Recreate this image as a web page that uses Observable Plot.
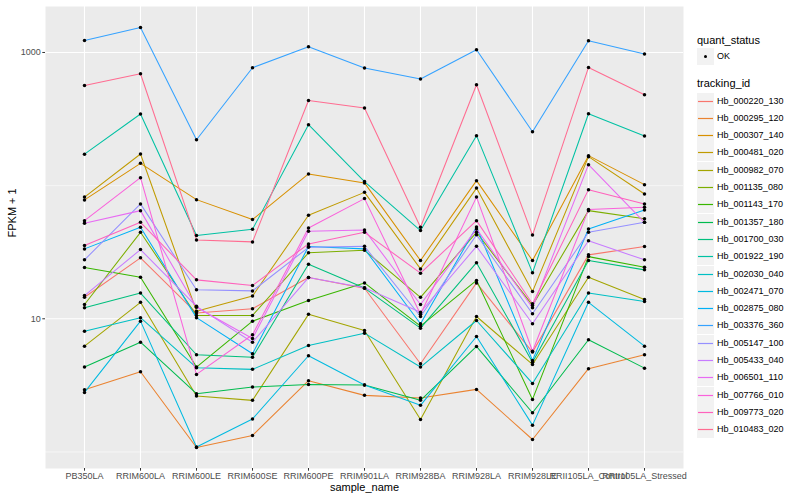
<!DOCTYPE html>
<html><head><meta charset="utf-8">
<script src="https://cdn.jsdelivr.net/npm/d3@7"></script>
<script src="https://cdn.jsdelivr.net/npm/@observablehq/plot@0.6"></script>
<style>
body{margin:0;background:#fff;font-family:"Liberation Sans",Arial,sans-serif;}
#wrap{position:relative;width:800px;height:500px;overflow:hidden;}
.lg{position:absolute;white-space:nowrap;line-height:1;}
.ttl{font-size:11px;color:#000;}
.txt{font-size:9px;color:#000;}
.key{position:absolute;width:17px;height:17px;background:#f2f2f2;}
.key svg{position:absolute;left:0;top:0;}
.key .dt{position:absolute;left:7px;top:7px;width:3.4px;height:3.4px;border-radius:50%;background:#000;}
</style></head>
<body><div id="wrap"></div>
<script>
const samples = ["PB350LA","RRIM600LA","RRIM600LE","RRIM600SE","RRIM600PE","RRIM901LA","RRIM928BA","RRIM928LA","RRIM928LE","RRII105LA_Control","RRII105LA_Stressed"];
const trackingIds = ["Hb_000220_130","Hb_000295_120","Hb_000307_140","Hb_000481_020","Hb_000982_070","Hb_001135_080","Hb_001143_170","Hb_001357_180","Hb_001700_030","Hb_001922_190","Hb_002030_040","Hb_002471_070","Hb_002875_080","Hb_003376_360","Hb_005147_100","Hb_005433_040","Hb_006501_110","Hb_007766_010","Hb_009773_020","Hb_010483_020"];
const colors = ["#F8766D","#EA8331","#D89000","#C09B00","#A3A500","#7CAE00","#39B600","#00BB4E","#00BF7D","#00C1A3","#00BFC4","#00BAE0","#00B0F6","#35A2FF","#9590FF","#C77CFF","#E76BF3","#FA62DB","#FF62BC","#FF6C91"];
const yTicks = [10, 1000];

// FPKM + 1 per tracking_id, in sample order
const Hb_000220_130 = [14.5, 28.7, 11.05, 11.9, 20.4, 16.96, 4.60, 18.6, 5.62, 30.2, 34.9];
const Hb_000295_120 = [2.93, 4.00, 1.08, 1.33, 3.43, 2.66, 2.54, 2.95, 1.24, 4.22, 5.37];
const Hb_000307_140 = [78.1, 147, 78.5, 55.6, 122.4, 104.8, 27.4, 109, 27.4, 168, 101.7];
const Hb_000481_020 = [82.0, 172.9, 11.4, 14.8, 59.9, 89.0, 23.7, 95.8, 16.0, 165, 86.6];
const Hb_000982_070 = [6.23, 13.3, 2.63, 2.44, 10.8, 8.17, 1.75, 10.4, 4.54, 20.5, 13.95];
const Hb_001135_080 = [12.8, 44.6, 10.6, 10.6, 31.3, 32.7, 14.5, 44.6, 12.6, 64.9, 56.3];
const Hb_001143_170 = [24.3, 20.5, 4.34, 9.6, 13.7, 18.6, 8.80, 19.4, 2.48, 29.3, 24.4];
const Hb_001357_180 = [4.34, 6.67, 2.74, 3.07, 3.21, 3.18, 2.44, 6.20, 1.97, 6.96, 4.26];
const Hb_001700_030 = [12.1, 15.6, 5.37, 5.15, 25.7, 17.0, 8.50, 26.4, 4.72, 27.4, 23.3];
const Hb_001922_190 = [172.3, 345, 42.2, 47.0, 286.9, 107.2, 46.0, 237.3, 22.2, 346.8, 236];
const Hb_002030_040 = [8.07, 10.2, 4.29, 4.17, 6.31, 7.80, 4.34, 9.71, 3.27, 15.6, 13.5];
const Hb_002471_070 = [2.80, 9.6, 1.09, 1.77, 5.28, 3.18, 2.24, 7.36, 1.59, 13.3, 6.23];
const Hb_002875_080 = [33.5, 48.7, 10.2, 5.46, 34.9, 33.5, 9.17, 48.9, 4.87, 47.3, 65.7];
const Hb_003376_360 = [1230, 1540, 221, 768, 1104, 765, 632, 1048, 254, 1224, 973];
const Hb_005147_100 = [27.7, 72.9, 16.5, 16.2, 34.4, 35.0, 10.4, 42.7, 10.9, 44.6, 53.0];
const Hb_005433_040 = [14.95, 33.1, 12.4, 6.67, 20.4, 17.1, 11.2, 35.0, 9.17, 38.5, 27.7];
const Hb_006501_110 = [52.1, 64.9, 12.2, 7.12, 45.4, 46.5, 12.8, 47.3, 12.1, 143.7, 53.0];
const Hb_007766_010 = [54.6, 114.8, 3.82, 7.59, 48.0, 79.9, 10.8, 82.0, 5.71, 66.1, 68.7];
const Hb_009773_020 = [35.5, 53.0, 19.6, 17.8, 36.5, 44.6, 22.0, 54.6, 12.96, 93.3, 72.9];
const Hb_010483_020 = [565, 692, 39.1, 37.8, 436, 383, 48.7, 572, 42.5, 772, 481];

const seriesValues = [Hb_000220_130,Hb_000295_120,Hb_000307_140,Hb_000481_020,Hb_000982_070,Hb_001135_080,Hb_001143_170,Hb_001357_180,Hb_001700_030,Hb_001922_190,Hb_002030_040,Hb_002471_070,Hb_002875_080,Hb_003376_360,Hb_005147_100,Hb_005433_040,Hb_006501_110,Hb_007766_010,Hb_009773_020,Hb_010483_020];

const data = trackingIds.flatMap((id, i) => samples.map((s, j) => ({id, sample: s, value: seriesValues[i][j], quant_status: "OK"})));

// ggplot-like expansion (5% in log space)
const lo = Math.log10(d3.min(data, d => d.value)), hi = Math.log10(d3.max(data, d => d.value));
const pad = (hi - lo) * 0.05;
const yDomain = [Math.pow(10, lo - pad), Math.pow(10, hi + pad)];

const chart = Plot.plot({
  width: 800, height: 500,
  marginLeft: 45, marginRight: 117, marginTop: 6, marginBottom: 32,
  style: {fontFamily: '"Liberation Sans", Arial, sans-serif', background: "#fff"},
  x: {type: "point", domain: samples, padding: 0.6, label: null},
  y: {type: "log", domain: yDomain, label: null},
  color: {domain: trackingIds, range: colors},
  marks: [
    Plot.frame({fill: "#ebebeb", stroke: null}),
    Plot.ruleY([1, 100], {stroke: "#fff", strokeWidth: 0.55}),
    Plot.ruleY(yTicks, {stroke: "#fff", strokeWidth: 1.1}),
    Plot.ruleX(samples, {stroke: "#fff", strokeWidth: 1.1}),
    Plot.line(data, {x: "sample", y: "value", z: "id", stroke: "id", strokeWidth: 1.05}),
    Plot.dot(data, {x: "sample", y: "value", r: 1.75, fill: "#000", stroke: null}),
    Plot.axisY({ticks: yTicks, tickFormat: d => String(d), tickSize: 2.7, tickPadding: 2, fontSize: 9, fill: "#4d4d4d", stroke: "#333", label: null}),
    Plot.axisX({tickSize: 2.7, tickPadding: 1.5, fontSize: 9, fill: "#4d4d4d", stroke: "#333", label: null}),
    Plot.text(["FPKM + 1"], {text: d => d, frameAnchor: "left", rotate: -90, dx: -33, fontSize: 11, fill: "#000"}),
    Plot.text(["sample_name"], {text: d => d, frameAnchor: "bottom", dy: 22, fontSize: 11, fill: "#000"})
  ]
});
const wrap = document.getElementById("wrap");
wrap.appendChild(chart);

// legend (ggplot style, right side)
function add(html, cls, left, top) {
  const d = document.createElement("div");
  d.className = "lg " + cls;
  d.style.left = left + "px"; d.style.top = top + "px";
  d.innerHTML = html;
  wrap.appendChild(d);
  return d;
}
add("quant_status", "ttl", 697, 35);
const k0 = document.createElement("div");
k0.className = "key"; k0.style.left = "697px"; k0.style.top = "48px";
k0.innerHTML = '<div class="dt"></div>';
wrap.appendChild(k0);
add("OK", "txt", 717, 52);
add("tracking_id", "ttl", 697, 78);
trackingIds.forEach((id, i) => {
  const cy = 101 + i * 17.3;
  const top = Math.round(cy - 8.5);
  const k = document.createElement("div");
  k.className = "key"; k.style.left = "697px"; k.style.top = top + "px";
  k.innerHTML = '<svg width="17" height="17"><line x1="1" x2="16" y1="8.5" y2="8.5" stroke="' + colors[i] + '" stroke-width="1.2"/></svg>';
  wrap.appendChild(k);
  add(id, "txt", 717, top + 4);
});
</script>
</body></html>
